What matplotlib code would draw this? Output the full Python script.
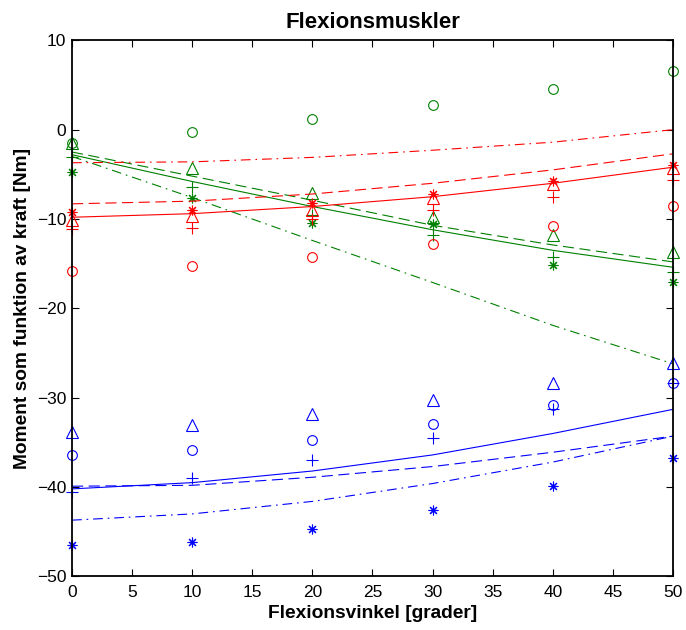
import matplotlib
matplotlib.use("Agg")
import matplotlib.pyplot as plt

plt.rcParams['font.family'] = ['Liberation Sans', 'DejaVu Sans']
plt.rcParams['lines.scale_dashes'] = False
plt.rcParams['axes.unicode_minus'] = True

angles = [0, 10, 20, 30, 40, 50]

# Green group
green_circle = [-1.5, -0.3, 1.2, 2.8, 4.6, 6.6]
green_tri = [-1.5, -4.3, -7.1, -9.8, -11.8, -13.7]
green_plus = [-3.1, -6.4, -9.6, -11.8, -14.2, -15.9]
green_star = [-4.7, -7.6, -10.4, -10.6, -15.2, -17.1]
green_solid = [-2.8, -5.8, -8.6, -11.2, -13.5, -15.4]
green_dash = [-2.5, -5.2, -7.9, -10.7, -12.9, -14.8]
green_dashdot = [-3.0, -7.6, -12.4, -17.1, -21.9, -26.2]

# Red group
red_circle = [-15.8, -15.3, -14.3, -12.8, -10.8, -8.5]
red_tri = [-10.1, -9.7, -9.0, -7.7, -6.1, -4.3]
red_plus = [-11.1, -11.0, -10.0, -9.0, -7.5, -5.6]
red_star = [-9.2, -9.0, -8.2, -7.2, -5.7, -4.0]
red_solid = [-9.8, -9.4, -8.6, -7.5, -6.0, -4.2]
red_dash = [-8.3, -8.0, -7.2, -6.0, -4.5, -2.7]
red_dashdot = [-3.7, -3.6, -3.1, -2.3, -1.4, 0.0]

# Blue group
blue_circle = [-36.4, -35.8, -34.7, -32.9, -30.8, -28.3]
blue_tri = [-33.8, -33.1, -31.8, -30.2, -28.3, -26.1]
blue_plus = [-40.5, -39.0, -37.0, -34.5, -31.3, -28.3]
blue_star = [-46.5, -46.1, -44.7, -42.6, -39.9, -36.7]
blue_solid = [-40.2, -39.5, -38.2, -36.4, -34.0, -31.3]
blue_dash = [-39.9, -39.8, -38.9, -37.7, -36.1, -34.3]
blue_dashdot = [-43.7, -43.0, -41.6, -39.6, -37.2, -34.3]

x_ticks = list(range(0, 55, 5))
y_ticks = list(range(-50, 15, 10))

title = "Flexionsmuskler"
x_label = "Flexionsvinkel [grader]"
y_label = "Moment som funktion av kraft [Nm]"

GREEN = "#008000"
RED = "#ff0000"
BLUE = "#0000ff"

fig = plt.figure(figsize=(6.86, 6.30), dpi=100)
ax = fig.add_axes([0.105, 0.085, 0.876, 0.851])

LW = 0.8
MS = 7
DASH = (0, (8, 4))
DASHDOT = (0, (7, 3.5, 1.2, 3.5))
ASTERISK = (8, 2, 0)

groups = [
    (GREEN, green_circle, green_tri, green_plus, green_star, green_solid, green_dash, green_dashdot),
    (RED, red_circle, red_tri, red_plus, red_star, red_solid, red_dash, red_dashdot),
    (BLUE, blue_circle, blue_tri, blue_plus, blue_star, blue_solid, blue_dash, blue_dashdot),
]

for color, circ, tri, plus, star, solid, dash, dashdot in groups:
    ax.plot(angles, circ, linestyle='none', marker='o', mfc='none', mec=color,
            ms=MS, mew=LW, clip_on=False)
    ax.plot(angles, tri, linestyle='none', marker='^', mfc='none', mec=color,
            ms=MS + 1.5, mew=LW, clip_on=False)
    ax.plot(angles, plus, linestyle='none', marker='+', mec=color,
            ms=MS + 1, mew=LW, clip_on=False)
    ax.plot(angles, star, linestyle='none', marker=ASTERISK, mec=color,
            ms=MS, mew=LW, clip_on=False)
    ax.plot(angles, solid, color=color, linestyle='-', lw=LW)
    ax.plot(angles, dash, color=color, linestyle=DASH, lw=LW)
    ax.plot(angles, dashdot, color=color, linestyle=DASHDOT, lw=LW)

ax.set_xlim(0, 50)
ax.set_ylim(-50, 10)
ax.set_xticks(x_ticks)
ax.set_yticks(y_ticks)
ax.tick_params(direction='in', top=True, right=True, length=5, width=0.8,
               labelsize=12.5)
ax.tick_params(axis='x', pad=6)
ax.tick_params(axis='y', pad=4)
for s in ax.spines.values():
    s.set_linewidth(1.3)

ax.set_title(title, fontsize=16, fontweight='bold', pad=9)
ax.set_xlabel(x_label, fontsize=13.8, fontweight='bold', labelpad=4)
ax.set_ylabel(y_label, fontsize=13.8, fontweight='bold', labelpad=4)

fig.savefig("out.png", dpi=100)
